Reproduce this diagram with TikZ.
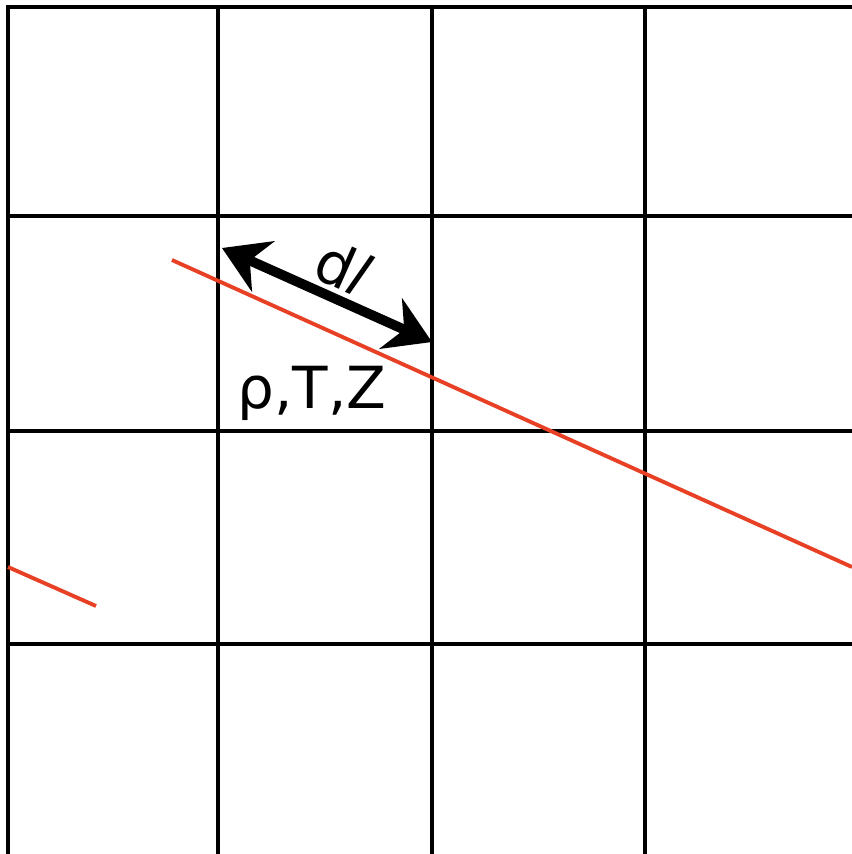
\documentclass[tikz,border=0pt]{standalone}
\usepackage{fontspec}
\setmainfont{DejaVu Sans}
\usepackage{tikz}
\usetikzlibrary{calc, arrows.meta}
\definecolor{raycol}{RGB}{232,64,36}

\begin{document}
\begin{tikzpicture}[x=0.01cm, y=-0.01cm]
  \useasboundingbox (0,0) rectangle (852,854);
  % grid
  \draw[line width=1.15pt] (8,854) -- (8,7) -- (852,7);
  \draw[line width=1.15pt] (218,7) -- (218,854);
  \draw[line width=1.15pt] (432,7) -- (432,854);
  \draw[line width=1.15pt] (645,7) -- (645,854);
  \draw[line width=1.15pt] (8,216) -- (852,216);
  \draw[line width=1.15pt] (8,431) -- (852,431);
  \draw[line width=1.15pt] (8,644) -- (852,644);
  % ray
  \draw[raycol, line width=1.1pt] (172,260) -- (852,567);
  \draw[raycol, line width=1.1pt] (8,567) -- (96,606);
  % path element
  \coordinate (dlstart) at (222,248);
  \coordinate (dlend) at (432,342);
  \draw[line width=2.8pt, {Stealth[length=0.45cm, width=0.55cm]}-{Stealth[length=0.45cm, width=0.55cm]}] (dlstart) -- (dlend);
  \node[rotate=-24, inner sep=0pt, font=\fontsize{16.5}{20}\selectfont] (dl) at (343,268) {d\textit{l}};
  \node[inner sep=0pt, font=\fontsize{16.5}{20}\selectfont] (cell) at (312,393) {ρ,T,Z};
\end{tikzpicture}
\end{document}
